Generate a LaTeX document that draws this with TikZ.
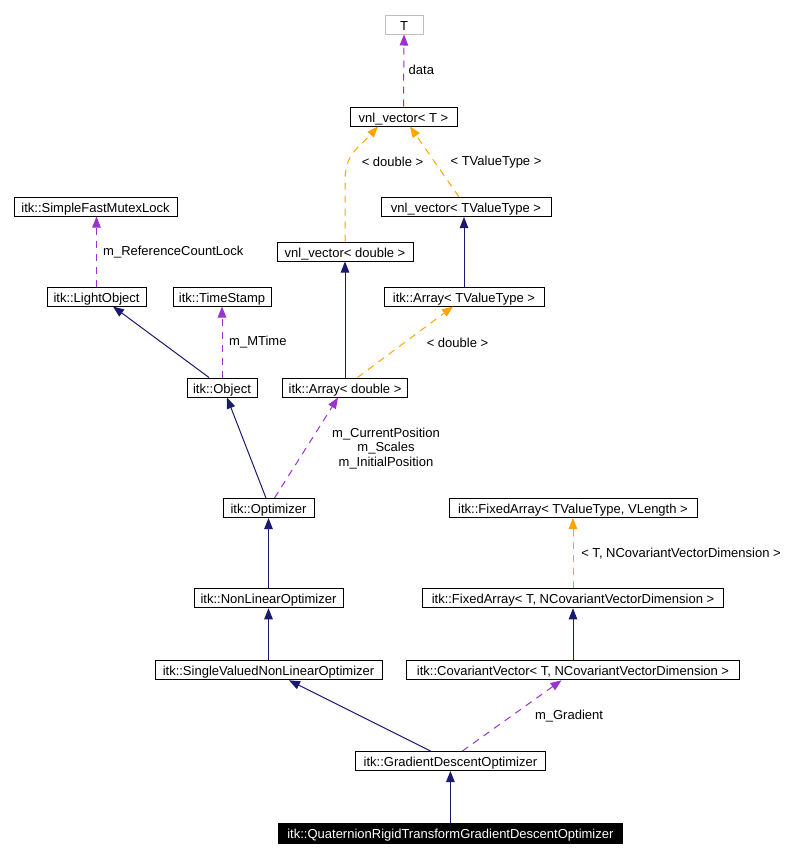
\documentclass[tikz,border=0pt]{standalone}
\usepackage{fontspec}
\setmainfont{Liberation Sans}
\usetikzlibrary{arrows.meta}
\definecolor{navy}{HTML}{191970}
\definecolor{edgepurple}{HTML}{9A32CD}
\definecolor{edgeorange}{HTML}{FFA500}
\definecolor{graybox}{HTML}{BFBFBF}
\begin{document}
\begin{tikzpicture}[x=1pt,y=-1pt,
  cls/.style={draw=black,line width=1pt,minimum height=19pt,inner sep=0pt,text height=13pt,text depth=2pt,font=\fontsize{13}{15}\selectfont,fill=white},
  lbl/.style={inner sep=0pt,font=\fontsize{13}{14.5}\selectfont},
  tip/.style={-{Triangle[length=11pt,width=8.5pt]}},
  inh/.style={tip,draw=navy,line width=1pt},
  mem/.style={tip,draw=edgepurple,line width=1pt,dash pattern=on 7pt off 6pt},
  tmpl/.style={tip,draw=edgeorange,line width=1pt,dash pattern=on 7pt off 6pt}]
\useasboundingbox (0,0) rectangle (804,857);
\fill[white] (0,0) rectangle (804,857);

% nodes
\node[cls,draw=graybox,minimum width=38pt] (T) at (404,24.5) {T};
\node[cls,minimum width=107pt] (vT) at (403.5,116.5) {vnl\_vector< T >};
\node[cls,minimum width=170pt] (vTV) at (466,207) {vnl\_vector< TValueType >};
\node[cls,minimum width=163pt] (SFML) at (95.5,206.5) {itk::SimpleFastMutexLock};
\node[cls,minimum width=136pt] (vd) at (345,251.5) {vnl\_vector< double >};
\node[cls,minimum width=99pt] (LO) at (96.5,296.5) {itk::LightObject};
\node[cls,minimum width=98pt] (TS) at (222,296.5) {itk::TimeStamp};
\node[cls,minimum width=160pt] (ATV) at (464,296.5) {itk::Array< TValueType >};
\node[cls,minimum width=70pt] (Obj) at (222,387.5) {itk::Object};
\node[cls,minimum width=125pt] (Ad) at (345,387.5) {itk::Array< double >};
\node[cls,minimum width=91pt] (Opt) at (268.5,508) {itk::Optimizer};
\node[cls,minimum width=248pt] (FATV) at (573,508) {itk::FixedArray< TValueType, VLength >};
\node[cls,minimum width=149pt] (NLO) at (268.5,598.3) {itk::NonLinearOptimizer};
\node[cls,minimum width=301pt] (FAT) at (573,598.3) {itk::FixedArray< T, NCovariantVectorDimension >};
\node[cls,minimum width=227pt] (SV) at (268.5,670.3) {itk::SingleValuedNonLinearOptimizer};
\node[cls,minimum width=333pt] (CV) at (573,670.3) {itk::CovariantVector< T, NCovariantVectorDimension >};
\node[cls,minimum width=190pt] (GD) at (450.4,761) {itk::GradientDescentOptimizer};
\node[cls,minimum width=344pt,minimum height=20pt,fill=black,text=white] (Q) at (450.4,833) {itk::QuaternionRigidTransformGradientDescentOptimizer};

% edges
\draw[mem] (vT.north) -- (T.south);
\draw[tmpl] (vd.north) -- ++(0,-60) .. controls +(0,-28) and +(-20,22) .. ([xshift=-25.5pt]vT.south);
\draw[tmpl] ([xshift=-7pt]vTV.north) -- ([xshift=6.5pt]vT.south);
\draw[mem] (LO.north) -- (LO.north |- SFML.south);
\draw[inh] ([xshift=-13pt]Obj.north) -- ([xshift=16.5pt]LO.south);
\draw[mem] (Obj.north) -- (TS.south);
\draw[inh] (Ad.north) -- (vd.south);
\draw[tmpl] ([xshift=12.5pt]Ad.north) -- ([xshift=-11pt]ATV.south);
\draw[inh] (ATV.north) -- (ATV.north |- vTV.south);
\draw[inh] ([xshift=-2.5pt]Opt.north) -- ([xshift=5pt]Obj.south);
\draw[mem] ([xshift=6pt]Opt.north) -- ([xshift=-7pt]Ad.south);
\draw[inh] (NLO.north) -- (Opt.south);
\draw[inh] (SV.north) -- (NLO.south);
\draw[tmpl] (FAT.north) -- (FATV.south);
\draw[inh] (CV.north) -- (FAT.south);
\draw[inh] ([xshift=-20pt]GD.north) -- ([xshift=20.5pt]SV.south);
\draw[mem] ([xshift=12pt]GD.north) -- ([xshift=-11.5pt]CV.south);
\draw[inh] (Q.north) -- (GD.south);

% labels
\node[lbl,anchor=west] (ldata) at (408.5,70) {data};
\node[lbl] (ldbl1) at (392.5,162) {< double >};
\node[lbl] (ltvt) at (496,162) {< TValueType >};
\node[lbl,anchor=west] (lrcl) at (103,252.5) {m\_ReferenceCountLock};
\node[lbl,anchor=west] (lmt) at (229,342.5) {m\_MTime};
\node[lbl] (ldbl2) at (457.5,342.5) {< double >};
\node[lbl,align=center] (lpos) at (386,448.5) {m\_CurrentPosition\\m\_Scales\\m\_InitialPosition};
\node[lbl] (lfa) at (681,554) {< T, NCovariantVectorDimension >};
\node[lbl] (lgrad) at (569,716.5) {m\_Gradient};
\end{tikzpicture}
\end{document}
